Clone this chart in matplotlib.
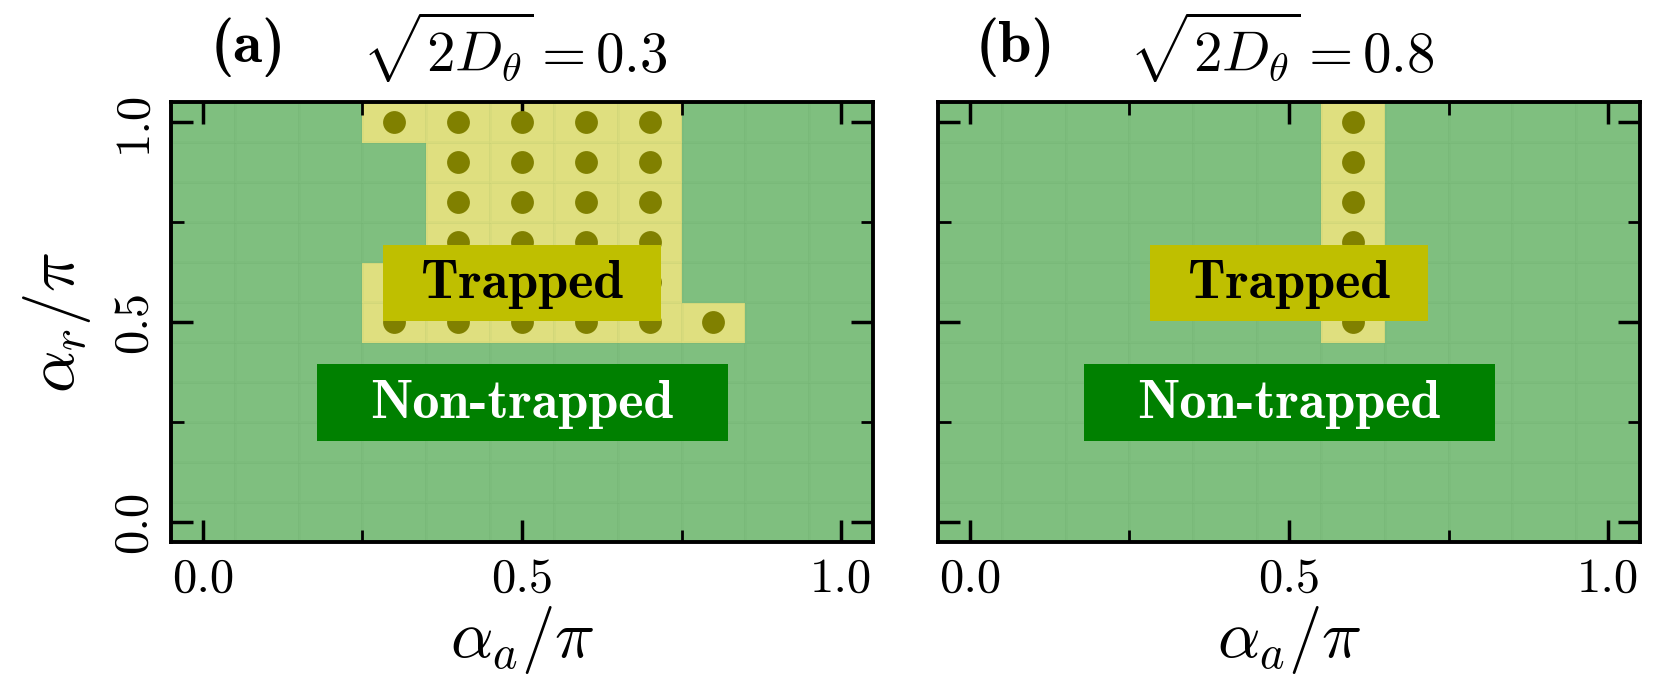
import matplotlib

matplotlib.use("Agg")
import matplotlib.pyplot as plt
import numpy as np
from matplotlib.patches import Rectangle

plt.rcParams["mathtext.fontset"] = "cm"
plt.rcParams["font.family"] = "cmr10"
plt.rcParams["axes.formatter.use_mathtext"] = True

# grid of angles (units of pi)
alpha_a = [0.0, 0.1, 0.2, 0.3, 0.4, 0.5, 0.6, 0.7, 0.8, 0.9, 1.0]
alpha_r = [0.0, 0.1, 0.2, 0.3, 0.4, 0.5, 0.6, 0.7, 0.8, 0.9, 1.0]

# trapped points, panel (a): sqrt(2 D_theta) = 0.3
trapped_a_x = [0.3, 0.4, 0.5, 0.6, 0.7,
               0.4, 0.5, 0.6, 0.7,
               0.4, 0.5, 0.6, 0.7,
               0.4, 0.5, 0.6, 0.7,
               0.3, 0.4, 0.5, 0.6, 0.7,
               0.3, 0.4, 0.5, 0.6, 0.7, 0.8]
trapped_a_y = [1.0, 1.0, 1.0, 1.0, 1.0,
               0.9, 0.9, 0.9, 0.9,
               0.8, 0.8, 0.8, 0.8,
               0.7, 0.7, 0.7, 0.7,
               0.6, 0.6, 0.6, 0.6, 0.6,
               0.5, 0.5, 0.5, 0.5, 0.5, 0.5]

# trapped points, panel (b): sqrt(2 D_theta) = 0.8
trapped_b_x = [0.6, 0.6, 0.6, 0.6, 0.6, 0.6]
trapped_b_y = [1.0, 0.9, 0.8, 0.7, 0.6, 0.5]

noise_values = ["0.3", "0.8"]
panel_tags = ["(a)", "(b)"]

tick_labels = ["0.0", "0.5", "1.0"]

GREEN = "#7fbf7f"
YELLOW = "#dfdf7f"
DOT = "#808000"


def trapped_matrix(xs, ys):
    z = np.zeros((len(alpha_r), len(alpha_a)))
    for x, y in zip(xs, ys):
        z[alpha_r.index(y), alpha_a.index(x)] = 1
    return z


def label_box(ax, cx, cy, w, h, text, fc, tc):
    ax.add_patch(Rectangle((cx - w / 2, cy - h / 2), w, h, fc=fc, ec="none", zorder=4))
    ax.text(cx, cy + 0.01, text, family="cmb10", fontsize=39, color=tc,
            ha="center", va="center_baseline", zorder=5)


def draw_panel(ax, xs, ys, tag, noise, show_ylabels):
    z = trapped_matrix(xs, ys)
    xe = np.append(np.array(alpha_a) - 0.05, alpha_a[-1] + 0.05)
    ye = np.append(np.array(alpha_r) - 0.05, alpha_r[-1] + 0.05)
    cmap = matplotlib.colors.ListedColormap([GREEN, YELLOW])
    ax.pcolormesh(xe, ye, z, cmap=cmap, vmin=0, vmax=1,
                  edgecolors=(0.2, 0.45, 0.2, 0.035), linewidth=0.8, zorder=0)
    ax.scatter(xs, ys, s=270, color=DOT, zorder=2, linewidths=0)

    label_box(ax, 0.5, 0.598, 0.435, 0.19, "Trapped", "#bfbf00", "black")
    label_box(ax, 0.5, 0.298, 0.644, 0.193, "Non-trapped", "#008000", "white")

    ax.set_xlim(-0.05, 1.05)
    ax.set_ylim(-0.05, 1.05)
    ax.set_xticks([0.0, 0.5, 1.0])
    ax.set_xticklabels(tick_labels)
    ax.set_yticks([0.0, 0.5, 1.0])
    ax.set_xticks([0.25, 0.75], minor=True)
    ax.set_yticks([0.25, 0.75], minor=True)
    if show_ylabels:
        ax.set_yticklabels(tick_labels, rotation=90, va="center")
        ax.set_ylabel(r"$\alpha_r/\pi$", fontsize=48, labelpad=13)
    else:
        ax.set_yticklabels([])
    ax.tick_params(which="both", direction="in", top=True, right=True,
                   labelsize=35, pad=11)
    ax.tick_params(which="major", length=16, width=2.5)
    ax.tick_params(which="minor", length=9, width=2)
    ax.set_xlabel(r"$\alpha_a/\pi$", fontsize=48, labelpad=2)
    for sp in ax.spines.values():
        sp.set_linewidth(2.8)
        sp.set_zorder(10)

    ax.text(0.11, 1.125, tag, family="cmb10", fontsize=43,
            ha="center", va="center", transform=ax.transAxes)
    ax.text(0.49, 1.125, r"$\sqrt{2D_\theta}=" + noise + "$", fontsize=41,
            ha="center", va="center", transform=ax.transAxes)


fig = plt.figure(figsize=(16.62, 6.88), dpi=100)
ax_a = fig.add_axes([0.1029, 0.2122, 0.4224, 0.6395])
ax_b = fig.add_axes([0.5644, 0.2122, 0.4224, 0.6395])

draw_panel(ax_a, trapped_a_x, trapped_a_y, panel_tags[0], noise_values[0], True)
draw_panel(ax_b, trapped_b_x, trapped_b_y, panel_tags[1], noise_values[1], False)

fig.savefig("out.png", dpi=100)
